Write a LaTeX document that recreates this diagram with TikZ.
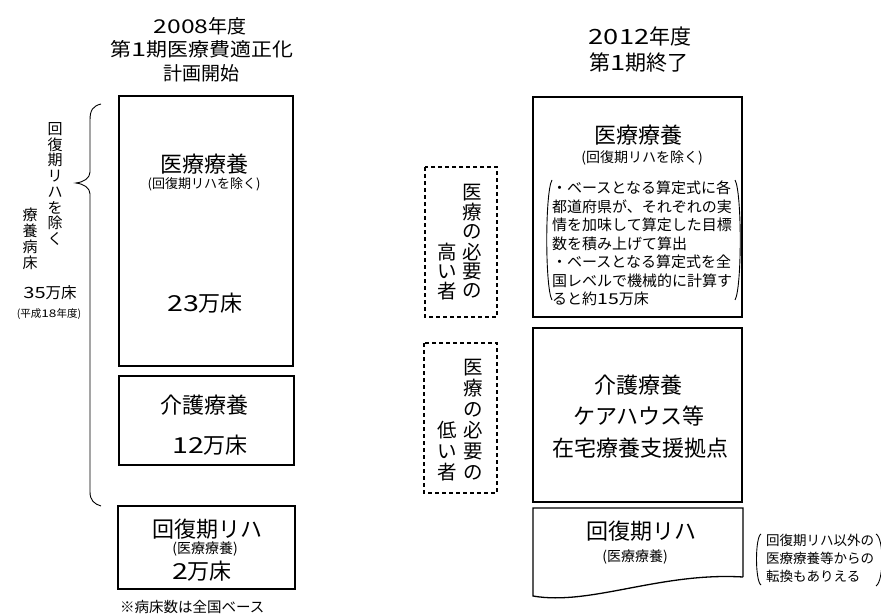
\documentclass[tikz,border=0pt]{standalone}
\usepackage{fontspec}
\setmainfont{Noto Sans CJK JP}
\newcommand\wdig[1]{\scalebox{1.3}[1]{#1}}
\tikzset{
  frame/.style={draw=black, line width=1.3pt},
  dbox/.style={draw=black, line width=1.3pt, dash pattern=on 4pt off 3pt},
  thinline/.style={draw=black, line width=0.9pt},
  txt/.style={inner sep=0pt, font=\fontsize{#1}{#1}\selectfont},
}
\newcommand\vtext[6]{\foreach \vc [count=\i from 0] in {#6} {\node[txt=#5] (#1\i) at (#2,{#3+\i*#4}) {\vc};}}
\begin{document}
\begin{tikzpicture}[x=1pt,y=-1pt]
\fill[white] (0,0) rectangle (881,615);
\useasboundingbox (0,0) rectangle (881,615);

% ---------- left column ----------
\node[txt=19] (t1a) at (200,26) {\wdig{2008}年度};
\node[txt=19] (t1b) at (202,49) {\scalebox{1.1}[1]{第\wdig{1}期医療費適正化}};
\node[txt=19] (t1c) at (201,73) {計画開始};

\draw[frame] (119,96) rectangle (293,366);
\draw[frame] (119,376) rectangle (294,465);
\draw[frame] (118,506) rectangle (295,589);

\node[txt=22] (l1a) at (204,164) {医療療養};
\node[txt=13] (l1b) at (204,184) {(回復期リハを除く)};
\node[txt=22] (l1c) at (205,303) {\wdig{23}万床};
\node[txt=22] (l2a) at (204,405) {介護療養};
\node[txt=22] (l2b) at (210,445) {\wdig{12}万床};
\node[txt=22] (l3a) at (207,529) {回復期リハ};
\node[txt=14] (l3b) at (205,549) {(医療療養)};
\node[txt=22] (l3c) at (202,571) {\wdig{2}万床};
\node[txt=14.5, anchor=west] (note1) at (120,607) {※病床数は全国ベース};

% brace and vertical text
\draw[thinline] (101,104) .. controls (93,106) and (90,110) .. (90,120) -- (90,172)
  .. controls (90,178) and (84,182) .. (76,183)
  .. controls (84,184) and (90,188) .. (90,194) -- (90,492)
  .. controls (90,500) and (94,504) .. (101,506);
\vtext{va}{55}{129}{15.7}{15}{回,復,期,リ,ハ,を,除,く}
\vtext{vb}{30}{215}{16}{15}{療,養,病,床}
\node[txt=15.5] (n35) at (50,293) {\wdig{35}万床};
\node[txt=10.5] (h18) at (49,314) {(平成\wdig{18}年度)};

% ---------- right column ----------
\node[txt=21] (t2a) at (640,37) {\wdig{2012}年度};
\node[txt=21] (t2b) at (639,63) {第\wdig{1}期終了};

\draw[frame] (533,97) rectangle (742,317);
\draw[frame] (533,328) rectangle (742,502);
\draw[frame] (743,577) -- (743,508) -- (533,508) -- (533,596)
  .. controls (590,606) and (660,572) .. (743,577);

\node[txt=22] (r1a) at (638,135) {医療療養};
\node[txt=14] (r1b) at (642,158) {(回復期リハを除く)};
\foreach \ln [count=\k from 0] in {・ベースとなる算定式に各,都道府県が、それぞれの実,情を加味して算定した目標,数を積み上げて算出,・ベースとなる算定式を全,国レベルで機械的に計算す,ると約\wdig{15}万床}
  {\node[txt=15, anchor=west] (bl\k) at (552,{188+\k*18.5}) {\ln};}
\draw[thinline] (552,180) .. controls (545,192) and (545,288) .. (552,300);
\draw[thinline] (735,180) .. controls (742,192) and (742,288) .. (735,300);

\node[txt=22] (r2a) at (638,385) {介護療養};
\node[txt=22] (r2b) at (639,416) {ケアハウス等};
\node[txt=22] (r2c) at (640,448) {在宅療養支援拠点};

\node[txt=22] (r3a) at (641,531) {回復期リハ};
\node[txt=14] (r3b) at (635,557) {(医療療養)};

\node[txt=13.5, anchor=west] (nt1) at (766,540) {回復期リハ以外の};
\node[txt=13.5, anchor=west] (nt2) at (766,558) {医療療養等からの};
\node[txt=13.5, anchor=west] (nt3) at (766,576) {転換もありえる};
\draw[thinline] (761,534) .. controls (755,537) and (755,581) .. (761,585);
\draw[thinline] (876,534) .. controls (884,538) and (884,581) .. (876,586);

% dashed boxes
\draw[dbox] (425,167) rectangle (497,317);
\vtext{da}{472}{192.5}{19.7}{19.5}{医,療,の,必,要,の}
\vtext{db}{447}{251.6}{19.7}{19.5}{高,い,者}
\draw[dbox] (424,343) rectangle (497,493);
\vtext{dc}{473}{367.5}{21}{19.5}{医,療,の,必,要,の}
\vtext{dd}{447}{430.5}{21}{19.5}{低,い,者}
\end{tikzpicture}
\end{document}
